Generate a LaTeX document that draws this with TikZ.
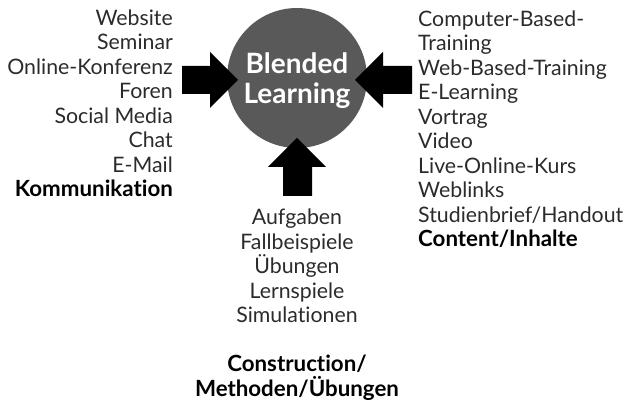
\documentclass[tikz,border=0pt]{standalone}
\usepackage{fontspec}
\setmainfont{Lato}[Ligatures=NoCommon]
\definecolor{hubgray}{HTML}{595959}
\definecolor{txt}{HTML}{2B2B2B}
\begin{document}
\begin{tikzpicture}[x=1pt,y=-1pt,
  item/.style={inner sep=0pt,text=txt,font=\fontsize{21.3}{24}\selectfont},
  head/.style={item,text=black,font=\fontsize{22.3}{24}\selectfont\bfseries},
  hubtext/.style={inner sep=0pt,text=white,font=\fontsize{28}{30}\selectfont\bfseries},
  bigarrow/.style={fill=black,draw=none}]
\useasboundingbox (0,0) rectangle (630,403);

% central circle
\node[circle,fill=hubgray,minimum size=140pt,inner sep=0pt] (hub) at (297,78) {};
\node[hubtext,anchor=base] (hubA) at (297,74) {Blended};
\node[hubtext,anchor=base] (hubB) at (297,104) {Learning};

% arrows pointing into the circle
\fill[bigarrow] (182,66) -- (210,66) -- (210,52) -- (238,80) -- (210,108) -- (210,94) -- (182,94) -- cycle;
\fill[bigarrow] (412,66) -- (383,66) -- (383,52) -- (355,80) -- (383,108) -- (383,94) -- (412,94) -- cycle;
\fill[bigarrow] (283,196) -- (283,167) -- (268,167) -- (297,138) -- (326,167) -- (312,167) -- (312,196) -- cycle;

% Kommunikation
\foreach \t [count=\i from 0] in {Website,Seminar,Online-Konferenz,Foren,Social Media,Chat,E-Mail}
  \node[item,anchor=base east] (k\i) at (173,25.5+24.5*\i) {\t};
\node[head,anchor=base east] (komm) at (173,197) {Kommunikation};

% Content
\foreach \t [count=\i from 0] in {Computer-Based-,Training,Web-Based-Training,E-Learning,Vortrag,Video,Live-Online-Kurs,Weblinks,Studienbrief/Handout}
  \node[item,anchor=base west] (c\i) at (418,26.5+24.45*\i) {\t};
\node[head,anchor=base west] (cont) at (418,247) {Content/Inhalte};

% Construction
\foreach \t [count=\i from 0] in {Aufgaben,Fallbeispiele,Übungen,Lernspiele,Simulationen}
  \node[item,anchor=base] (m\i) at (297,225+24.5*\i) {\t};
\node[head,anchor=base] (cons1) at (297,372) {Construction/};
\node[head,anchor=base] (cons2) at (297,397) {Methoden/Übungen};
\end{tikzpicture}
\end{document}
